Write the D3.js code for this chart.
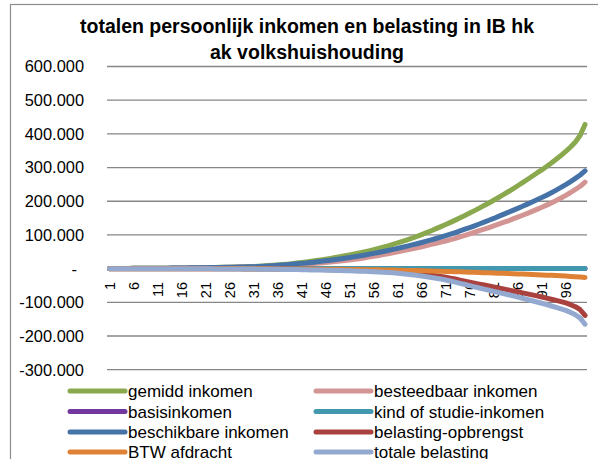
<!DOCTYPE html>
<html><head><meta charset="utf-8">
<script src="https://cdn.jsdelivr.net/npm/d3@7"></script>
<style>html,body{margin:0;padding:0;background:#fff;}svg{display:block;}</style>
</head><body>
<script>
// values in thousands (k)
const categories = d3.range(1, 101);
const gemidd = [
 0.3,0.4,0.5,0.6,0.7,0.8,0.9,1.0,1.1,1.2,
 1.3,1.4,1.5,1.6,1.8,2.0,2.2,2.4,2.6,2.9,
 3.1,3.3,3.5,3.8,4.1,4.4,4.7,5.1,5.5,6.0,
 6.6,7.3,8.1,9.0,10.0,11.0,12.1,13.4,14.9,16.5,
 18.2,20.0,21.9,23.9,26.0,28.2,30.5,32.9,35.4,38.0,
 40.7,43.5,46.5,49.6,52.8,56.2,59.8,63.6,67.6,71.8,
 76.2,80.8,85.6,90.6,95.8,101.2,106.8,112.6,118.6,124.8,
 131.0,137.4,144.0,150.8,157.8,165.0,172.2,179.6,187.2,195.0,
 203.0,211.2,219.6,228.2,237.0,246.0,255.2,264.6,274.2,284.0,
 293,303,313.5,324.5,336,348,361,376,396,428];
const besteedbaar = [
 0.3,0.4,0.5,0.6,0.7,0.8,0.9,1.0,1.1,1.2,
 1.3,1.4,1.5,1.6,1.7,1.8,2.0,2.2,2.4,2.6,
 2.8,3.0,3.2,3.4,3.6,3.9,4.2,4.5,4.8,5.1,
 5.5,6.0,6.5,7.1,7.7,8.4,9.1,9.9,10.7,11.6,
 12.5,13.5,14.6,15.8,17.0,18.3,19.6,21.0,22.4,23.9,
 25.5,27.5,29.6,31.8,34.1,36.5,39.0,41.6,44.3,47.1,
 50,53,56,59,62,65,68.5,72,75.5,78.7,
 82,86,90,94.5,99,103.5,108,112.5,117,122,
 127,132,137,142,147.5,153,158.5,164,170,176,
 182,188.5,195,202,209.5,217.5,226,235,244.5,257];
const basisinkomen = [
 0.4,0.4,0.4,0.4,0.4,0.4,0.4,0.4,0.4,0.4,
 0.4,0.4,0.4,0.4,0.4,0.4,0.4,0.4,0.4,0.4,
 0.4,0.4,0.4,0.4,0.4,0.4,0.4,0.4,0.4,0.4,
 0.4,0.4,0.4,0.4,0.4,0.4,0.4,0.4,0.4,0.4,
 0.4,0.4,0.4,0.4,0.4,0.4,0.4,0.4,0.4,0.4,
 0.4,0.4,0.4,0.4,0.4,0.4,0.4,0.4,0.4,0.4,
 0.4,0.4,0.4,0.4,0.4,0.4,0.4,0.4,0.4,0.4,
 0.4,0.4,0.4,0.4,0.4,0.4,0.4,0.4,0.4,0.4,
 0.4,0.4,0.4,0.4,0.4,0.4,0.4,0.4,0.4,0.4,
 0.4,0.4,0.4,0.4,0.4,0.4,0.4,0.4,0.4,0.4];
const kindStudie = [
 0.5,0.5,0.5,0.5,0.5,0.5,0.5,0.5,0.5,0.5,
 0.5,0.5,0.5,0.5,0.5,0.5,0.5,0.5,0.5,0.5,
 0.5,0.5,0.5,0.5,0.5,0.5,0.5,0.5,0.5,0.5,
 0.5,0.5,0.5,0.5,0.5,0.5,0.5,0.5,0.5,0.5,
 0.5,0.5,0.5,0.5,0.5,0.5,0.5,0.5,0.5,0.5,
 0.5,0.5,0.5,0.5,0.5,0.5,0.5,0.5,0.5,0.5,
 0.5,0.5,0.5,0.5,0.5,0.5,0.5,0.5,0.5,0.5,
 0.5,0.5,0.5,0.5,0.5,0.5,0.5,0.5,0.5,0.5,
 0.5,0.5,0.5,0.5,0.5,0.5,0.5,0.5,0.5,0.5,
 0.5,0.5,0.5,0.5,0.5,0.5,0.5,0.5,0.5,0.5];
const beschikbaar = [
 0.3,0.4,0.5,0.6,0.7,0.8,0.9,1.0,1.1,1.2,
 1.3,1.4,1.5,1.6,1.7,1.9,2.1,2.3,2.5,2.7,
 2.9,3.1,3.3,3.5,3.8,4.1,4.4,4.7,5.0,5.4,
 5.9,6.5,7.2,8.0,8.8,9.7,10.7,11.8,13.0,14.3,
 15.6,17.0,18.5,20.0,21.6,23.3,25.0,26.8,28.7,30.6,
 32.8,35.0,37.4,39.9,42.5,45.2,48.0,50.9,53.9,57.0,
 60.2,63.5,66.9,70.4,74.0,77.7,81.5,85.4,89.4,93.5,
 98,102.5,107.2,112,117,122,127.2,132.5,138,143.5,
 149,155,161,167,173,179,185,191.5,198,204.5,
 211,218,225.5,233,241,249.5,258.5,268,278,290];
const belasting = [
 -0.02,-0.03,-0.04,-0.05,-0.06,-0.07,-0.08,-0.09,-0.1,-0.11,
 -0.12,-0.14,-0.16,-0.18,-0.2,-0.22,-0.25,-0.28,-0.31,-0.34,
 -0.37,-0.4,-0.44,-0.48,-0.52,-0.57,-0.62,-0.67,-0.73,-0.79,
 -0.86,-0.93,-1.0,-1.1,-1.2,-1.3,-1.4,-1.5,-1.65,-1.8,
 -1.95,-2.1,-2.3,-2.5,-2.7,-2.9,-3.1,-3.35,-3.6,-3.85,
 -4.1,-4.4,-4.7,-5.0,-5.4,-5.8,-6.3,-6.8,-7.4,-8.0,
 -8.8,-9.9,-11.2,-12.6,-14.1,-15.7,-17.4,-19.2,-21.1,-23.1,
 -25.5,-28.2,-31,-34,-37,-40,-43,-46,-48.8,-51.7,
 -54.6,-57.4,-60.2,-63,-65.9,-68.8,-71.8,-74.8,-77.9,-81.0,
 -84.2,-87.5,-90.9,-94.4,-98,-101.8,-107,-113,-122,-139];
const btw = [
 -0.03,-0.04,-0.05,-0.06,-0.07,-0.08,-0.08,-0.09,-0.1,-0.11,
 -0.12,-0.13,-0.14,-0.15,-0.16,-0.17,-0.19,-0.2,-0.22,-0.24,
 -0.26,-0.28,-0.3,-0.32,-0.34,-0.36,-0.39,-0.42,-0.45,-0.48,
 -0.52,-0.56,-0.6,-0.66,-0.72,-0.78,-0.85,-0.92,-1.0,-1.08,
 -1.2,-1.3,-1.4,-1.5,-1.6,-1.75,-1.9,-2.0,-2.1,-2.25,
 -2.4,-2.55,-2.75,-2.95,-3.2,-3.4,-3.6,-3.85,-4.1,-4.4,
 -4.7,-5.0,-5.3,-5.6,-5.9,-6.2,-6.6,-7.0,-7.4,-7.8,
 -8.3,-8.7,-9.2,-9.6,-10.1,-10.6,-11.0,-11.5,-12.0,-12.5,
 -13.0,-13.5,-14.0,-14.6,-15.1,-15.7,-16.2,-16.8,-17.4,-18.0,
 -18.6,-19.3,-20.0,-20.7,-21.4,-22.2,-23.0,-23.9,-24.8,-26.0];
const totaleBelasting = [
 -0.05,-0.07,-0.09,-0.11,-0.13,-0.15,-0.16,-0.18,-0.2,-0.22,
 -0.24,-0.27,-0.3,-0.33,-0.36,-0.39,-0.44,-0.48,-0.53,-0.58,
 -0.63,-0.68,-0.74,-0.8,-0.86,-0.93,-1.01,-1.09,-1.18,-1.27,
 -1.38,-1.49,-1.6,-1.76,-1.92,-2.08,-2.25,-2.42,-2.65,-2.88,
 -3.15,-3.4,-3.7,-4.0,-4.3,-4.65,-5.0,-5.35,-5.7,-6.1,
 -6.5,-6.95,-7.45,-7.95,-8.6,-9.2,-9.9,-10.65,-11.5,-12.4,
 -13.5,-14.9,-16.5,-18.2,-20.0,-21.9,-24.0,-26.2,-28.5,-30.9,
 -33.8,-36.9,-40.2,-43.6,-47.1,-50.6,-54.0,-57.5,-60.8,-64.2,
 -67.6,-70.9,-74.2,-77.6,-81.0,-84.5,-88.0,-91.6,-95.3,-99.0,
 -102.8,-106.8,-110.9,-115.1,-119.4,-124.0,-130.0,-136.9,-146.8,-165.0];

const seriesNames = ["gemidd inkomen","besteedbaar inkomen","basisinkomen","kind of studie-inkomen",
  "beschikbare inkomen","belasting-opbrengst","BTW afdracht","totale belasting"];
const seriesValues = [gemidd, besteedbaar, basisinkomen, kindStudie, beschikbaar, belasting, btw, totaleBelasting];
const seriesColors = ["#8AA84E","#D39593","#7338A0","#4198AF","#4572A7","#A9423F","#DF8235","#93A9CF"];
const yTicks = [600,500,400,300,200,100,0,-100,-200,-300];
const yTickLabels = ["600.000","500.000","400.000","300.000","200.000","100.000","-","-100.000","-200.000","-300.000"];
const xTickCats = d3.range(1, 101, 5);
const titleLines = ["totalen persoonlijk inkomen en belasting in IB hk","ak volkshuishouding"];

const W = 598, H = 459;
const font = "'Liberation Sans', Arial, sans-serif";
const svg = d3.select("body").append("svg").attr("width", W).attr("height", H);

svg.append("rect").attr("x",10.5).attr("y",4.5).attr("width",620).attr("height",520)
  .attr("fill","#fff").attr("stroke","#8c8c8c").attr("stroke-width",1.2);

svg.selectAll("text.title").data(titleLines).join("text")
  .attr("x",307).attr("y",(d,i)=>33+i*26).attr("text-anchor","middle")
  .attr("font-family",font).attr("font-weight","bold").attr("font-size",19.5)
  .attr("fill","#000").text(d=>d);

const x = d3.scalePoint().domain(categories).range([109.5, 585]);
const y = d3.scaleLinear().domain([-300, 600]).range([369.7, 66.5]);

svg.selectAll("line.grid").data(yTicks.filter(v=>v!==0)).join("line")
  .attr("x1",107).attr("x2",587).attr("y1",d=>y(d)).attr("y2",d=>y(d))
  .attr("stroke","#868686").attr("stroke-width",1.3);

svg.selectAll("text.ytick").data(yTicks).join("text")
  .attr("x",(d,i)=> d===0 ? 77 : 84).attr("y",d=>y(d)).attr("dy","0.36em")
  .attr("text-anchor","end").attr("font-family",font).attr("font-size",16.4)
  .attr("fill","#000").text((d,i)=>yTickLabels[i]);

svg.selectAll("text.xtick").data(xTickCats).join("text")
  .attr("transform",d=>`translate(${x(d)},282) rotate(-90)`)
  .attr("dy","0.38em").attr("text-anchor","end")
  .attr("font-family",font).attr("font-size",14.5).attr("fill","#000").text(d=>d);

const line = d3.line().x((d,i)=>x(categories[i])).y(d=>y(d));
svg.selectAll("path.series").data(seriesValues).join("path")
  .attr("d",d=>line(d)).attr("fill","none")
  .attr("stroke",(d,i)=>seriesColors[i]).attr("stroke-width",5)
  .attr("stroke-linecap","round").attr("stroke-linejoin","round");

const rows = [391, 411.5, 432, 452];
const cols = [70, 316];
const lg = svg.selectAll("g.leg").data(seriesNames).join("g")
  .attr("transform",(d,i)=>`translate(${cols[i%2]},${rows[Math.floor(i/2)]})`);
lg.append("line").attr("x1",0).attr("x2",55).attr("y1",0).attr("y2",0)
  .attr("stroke",(d,i)=>seriesColors[i]).attr("stroke-width",5).attr("stroke-linecap","round");
lg.append("text").attr("x",58).attr("y",0).attr("dy","0.36em")
  .attr("font-family",font).attr("font-size",17).attr("fill","#000").text(d=>d);
</script>
</body></html>
